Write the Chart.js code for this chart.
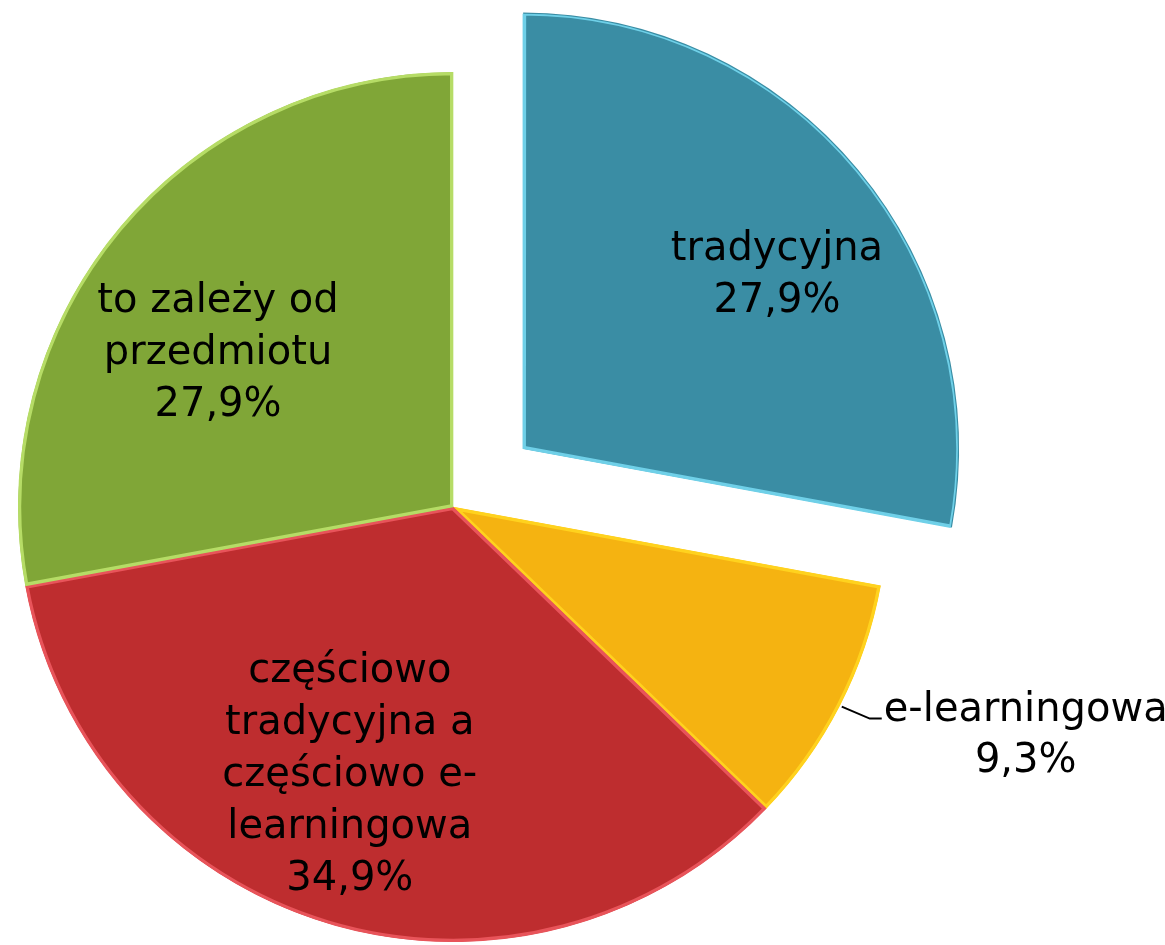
<!DOCTYPE html>
<html>
<head>
<meta charset="utf-8">
<script src="https://cdn.jsdelivr.net/npm/chart.js@4/dist/chart.umd.min.js"></script>
<style>
  html, body { margin: 0; padding: 0; background: #fff; }
  #wrap { width: 1165px; height: 945px; position: relative; }
</style>
</head>
<body>
<div id="wrap"><canvas id="pie"></canvas></div>
<script>
const categories = [
  ['tradycyjna'],
  ['e-learningowa'],
  ['częściowo', 'tradycyjna a', 'częściowo e-', 'learningowa'],
  ['to zależy od', 'przedmiotu']
];
const shares = [27.9, 9.3, 34.9, 27.9];
const percentLabels = ['27,9%', '9,3%', '34,9%', '27,9%'];

const fills = ['#3a8da4', '#f5b311', '#be2d2f', '#80a637'];
const edges = ['#6fd0e8', '#ffd21e', '#e8545a', '#b6dc66'];

// Chart.js moves an arc by offset / 4, so 364 gives a ~91px pull-out
const sliceOffsets = [364, 0, 0, 0];

// label placement: radius factor along the mid-angle, plus small nudge
const labelRadius = [0.70, 0, 0.64, 0.67];
const labelNudge = [[20, 17], [0, 0], [-23, -3], [-11, 28]];

const labelPlugin = {
  id: 'sliceLabels',
  afterDatasetsDraw(chart) {
    const ctx = chart.ctx;
    const arcs = chart.getDatasetMeta(0).data;
    ctx.save();
    ctx.fillStyle = '#000';
    ctx.font = '40px "DejaVu Sans"';
    ctx.textAlign = 'center';
    ctx.textBaseline = 'alphabetic';
    const lh = 52;
    arcs.forEach((arc, i) => {
      const { x, y, startAngle, endAngle, outerRadius } = arc.getProps(['x', 'y', 'startAngle', 'endAngle', 'outerRadius'], true);
      const mid = (startAngle + endAngle) / 2;
      const shift = sliceOffsets[i] / 4;
      const ox = x + Math.cos(mid) * shift;
      const oy = y + Math.sin(mid) * shift;
      const lines = categories[i].concat([percentLabels[i]]);
      if (i === 1) {
        // outside label with leader line
        const ex = ox + Math.cos(mid) * (outerRadius + 2);
        const ey = oy + Math.sin(mid) * (outerRadius + 2);
        const kx = ex + 28, ky = ey + 12;
        ctx.strokeStyle = '#000';
        ctx.lineWidth = 2;
        ctx.beginPath();
        ctx.moveTo(ex, ey);
        ctx.lineTo(kx, ky);
        ctx.lineTo(kx + 12, ky);
        ctx.stroke();
        const w = ctx.measureText(lines[0]).width;
        const cx = kx + 14 + w / 2;
        ctx.fillText(lines[0], cx, ky + 2);
        ctx.fillText(lines[1], cx, ky + 53);
        return;
      }
      const r = outerRadius * labelRadius[i];
      const cx = ox + Math.cos(mid) * r + labelNudge[i][0];
      const cy = oy + Math.sin(mid) * r + labelNudge[i][1];
      const blockH = (lines.length - 1) * lh + 30;
      let by = cy - blockH / 2 + 30;
      lines.forEach(t => {
        ctx.fillText(t, cx, by);
        by += lh;
      });
    });
    ctx.restore();
  }
};

new Chart(document.getElementById('pie'), {
  type: 'pie',
  data: {
    labels: categories.map(c => c.join(' ')),
    datasets: [{
      data: shares,
      backgroundColor: fills,
      borderColor: edges,
      borderWidth: 3,
      borderAlign: 'inner',
      offset: sliceOffsets
    }]
  },
  options: {
    responsive: true,
    maintainAspectRatio: false,
    animation: false,
    radius: 435,
    layout: { padding: { left: 0, right: 259, top: 69, bottom: 0 } },
    plugins: {
      legend: { display: false },
      tooltip: { enabled: false }
    }
  },
  plugins: [labelPlugin]
});
</script>
</body>
</html>
